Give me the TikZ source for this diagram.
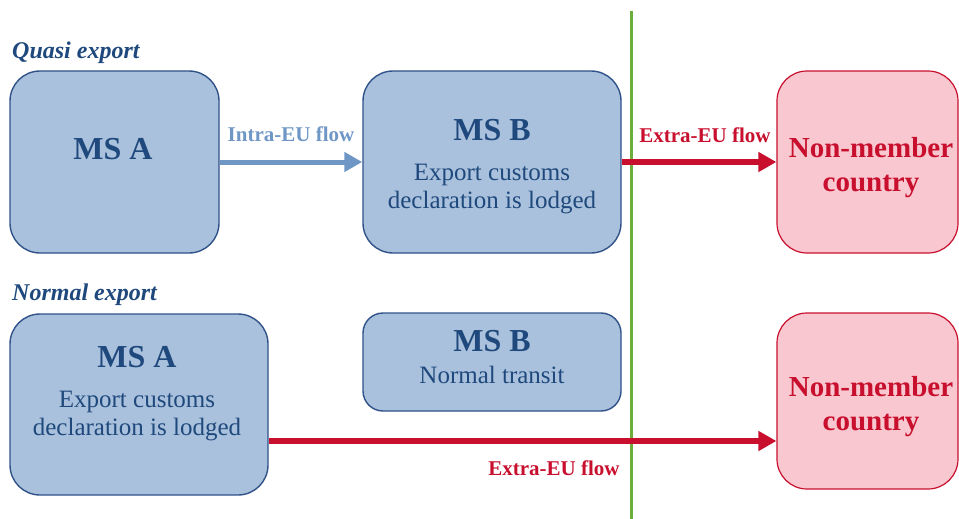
\documentclass[tikz,border=0pt]{standalone}
\usepackage{fontspec}
\setmainfont{Liberation Serif}
\usetikzlibrary{arrows.meta}
\definecolor{txtblue}{HTML}{1F497D}
\definecolor{boxfill}{HTML}{A9C1DC}
\definecolor{boxline}{HTML}{2F5288}
\definecolor{intra}{HTML}{6F97C6}
\definecolor{extra}{HTML}{C8102E}
\definecolor{pinkfill}{HTML}{F9C7CF}
\definecolor{eugreen}{HTML}{6AAF3B}
\tikzset{
  msbox/.style={draw=boxline, fill=boxfill, line width=1.4pt, rounded corners=30pt, inner sep=0pt},
  nmbox/.style={draw=extra, fill=pinkfill, line width=1.2pt, rounded corners=30pt, inner sep=0pt},
  heading/.style={text=txtblue, font=\fontsize{24}{28}\selectfont\bfseries\itshape, inner sep=0pt, anchor=west},
  mstitle/.style={text=txtblue, font=\fontsize{32}{36}\selectfont\bfseries, inner sep=0pt},
  mstext/.style={text=txtblue, font=\fontsize{25}{28}\selectfont, inner sep=0pt},
  nmtext/.style={text=extra, font=\fontsize{29}{35}\selectfont\bfseries, inner sep=0pt},
  flowlabel/.style={font=\fontsize{21}{24}\selectfont\bfseries, inner sep=0pt},
  intraarrow/.style={draw=intra, line width=5pt, -{Triangle[length=18pt,width=19pt]}},
  extraarrow/.style={draw=extra, line width=5.5pt, -{Triangle[length=18pt,width=19pt]}},
}
\begin{document}
\begin{tikzpicture}[x=1pt,y=-1pt]
\useasboundingbox (0,0) rectangle (959,519);
% green border line
\coordinate (gtop) at (631,11);
\coordinate (gbot) at (631,519);
\draw[eugreen, line width=3pt] (gtop) -- (gbot);

% Quasi export
\node[heading] (hq) at (12,53) {Quasi export};
\node[msbox, minimum width=209pt, minimum height=182pt] (qA) at (114.5,162) {};
\node[msbox, minimum width=258pt, minimum height=182pt] (qB) at (492,162) {};
\node[nmbox, minimum width=181pt, minimum height=182pt] (qN) at (867.5,162) {};
\node[mstitle] (qAt) at (113,149) {MS A};
\node[mstitle] (qBt) at (492,130) {MS B};
\node[mstext] (qBl1) at (492,175) {Export customs};
\node[mstext] (qBl2) at (492,203) {declaration is lodged};
\node[nmtext] (qN1) at (871,148) {Non-member};
\node[nmtext] (qN2) at (871,186) {country};
\draw[intraarrow] (qA) -- (qB);
\node[flowlabel, text=intra] (lintra) at (291,134) {Intra-EU flow};
\draw[extraarrow] (qB) -- (qN);
\node[flowlabel, text=extra] (lextra1) at (705,135) {Extra-EU flow};

% Normal export
\node[heading] (hn) at (12,295) {Normal export};
\node[msbox, minimum width=258pt, minimum height=181pt] (nA) at (139,404.5) {};
\node[msbox, minimum width=258pt, minimum height=98pt, rounded corners=20pt] (nB) at (492,362) {};
\node[nmbox, minimum width=181pt, minimum height=176pt] (nN) at (867.5,401) {};
\node[mstitle] (nAt) at (137,357) {MS A};
\node[mstext] (nAl1) at (137,402) {Export customs};
\node[mstext] (nAl2) at (137,430) {declaration is lodged};
\node[mstitle] (nBt) at (492,341) {MS B};
\node[mstext] (nBl) at (492,375) {Normal transit};
\node[nmtext] (nN1) at (871,387) {Non-member};
\node[nmtext] (nN2) at (871,425) {country};
\coordinate (ay) at (0,441);
\draw[extraarrow] (nA.east |- ay) -- (nN.west |- ay);
\node[flowlabel, text=extra] (lextra2) at (554,468) {Extra-EU flow};
\end{tikzpicture}
\end{document}
